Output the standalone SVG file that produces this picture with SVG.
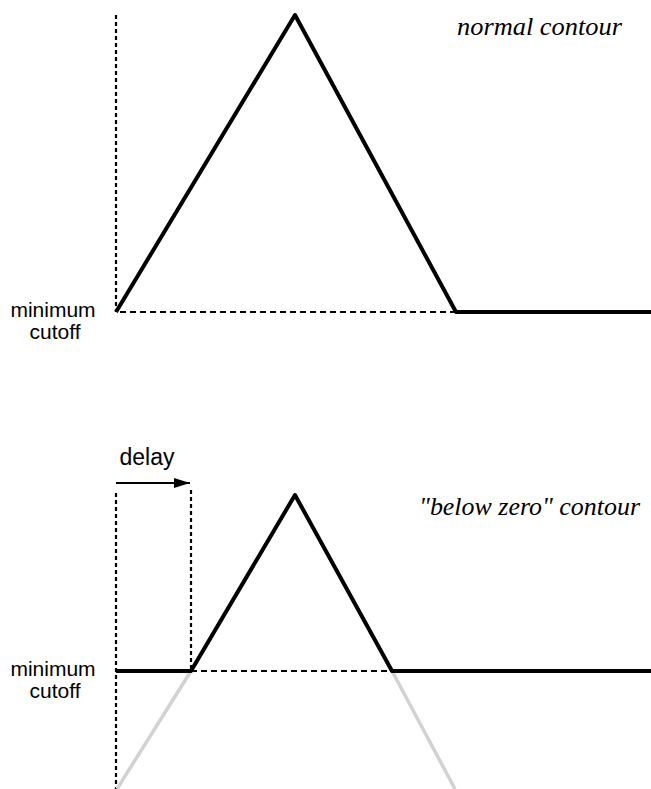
<svg xmlns="http://www.w3.org/2000/svg" width="651" height="789" viewBox="0 0 651 789">
<style>
.contour{fill:none;stroke:#000;stroke-width:4;stroke-linejoin:round;stroke-linecap:butt}
.ghost{fill:none;stroke:#d2d2d2;stroke-width:3.5}
.vdot{fill:none;stroke:#000;stroke-width:2.2;stroke-dasharray:4 3}
.hdash{fill:none;stroke:#000;stroke-width:2;stroke-dasharray:6 4}
.lbl{font-family:"Liberation Sans",Arial,sans-serif;font-size:21px;fill:#000;text-anchor:middle}
.title{font-family:"Liberation Serif","Times New Roman",serif;font-style:italic;font-size:25px;fill:#000}
</style>
<defs>
<marker id="ah" markerWidth="16" markerHeight="10" refX="16" refY="5" orient="auto" markerUnits="userSpaceOnUse">
<path d="M0,0 L16,5 L0,10 Z" fill="#000"/>
</marker>
</defs>
<g id="connectors">
<line class="vdot" x1="116" y1="15" x2="116" y2="312"/>
<line class="hdash" x1="120" y1="312" x2="456" y2="312"/>
<line class="vdot" x1="116" y1="493" x2="116" y2="789"/>
<line class="vdot" x1="191" y1="490" x2="191" y2="671"/>
<line class="hdash" x1="191" y1="671" x2="392" y2="671"/>
<line x1="116" y1="483" x2="190" y2="483" stroke="#000" stroke-width="2" marker-end="url(#ah)"/>
<line class="ghost" x1="191" y1="671" x2="117" y2="789"/>
<line class="ghost" x1="392" y1="671" x2="455" y2="789"/>
</g>
<g id="normal-contour">
<polyline class="contour" points="116,312 295,15 456,312 651,312"/>
<text class="title" x="457" y="35" textLength="165" lengthAdjust="spacingAndGlyphs">normal contour</text>
</g>
<g id="below-zero-contour">
<polyline class="contour" points="116,671 191,671 295,495 392,671 651,671"/>
<text class="title" x="419" y="515" textLength="221" lengthAdjust="spacingAndGlyphs">"below zero" contour</text>
</g>
<g id="label-top">
<text class="lbl" x="53" y="317">minimum</text>
<text class="lbl" x="55" y="339">cutoff</text>
</g>
<g id="label-bottom">
<text class="lbl" x="53" y="676">minimum</text>
<text class="lbl" x="55" y="698">cutoff</text>
</g>
<g id="delay">
<text class="lbl" x="147" y="465" style="font-size:23px">delay</text>
</g>
</svg>
